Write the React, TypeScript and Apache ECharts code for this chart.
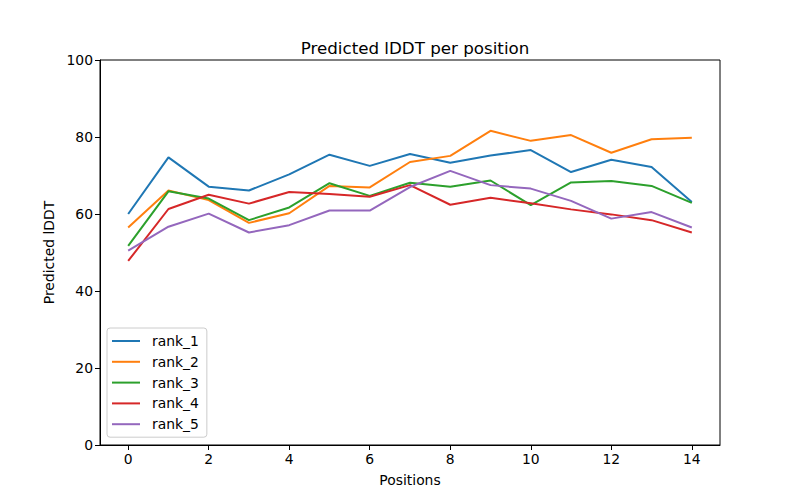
import React, { useEffect, useRef } from "react";
import * as echarts from "echarts";

const positions = [0, 1, 2, 3, 4, 5, 6, 7, 8, 9, 10, 11, 12, 13, 14];
const seriesNames = ["rank_1", "rank_2", "rank_3", "rank_4", "rank_5"];
const rank1 = [60.0, 74.7, 67.1, 66.1, 70.3, 75.4, 72.5, 75.6, 73.3, 75.2, 76.6, 70.9, 74.1, 72.2, 63.1];
const rank2 = [56.5, 66.1, 63.6, 57.7, 60.2, 67.3, 66.9, 73.5, 75.1, 81.6, 79.0, 80.5, 75.9, 79.4, 79.8];
const rank3 = [51.7, 65.9, 64.0, 58.4, 61.7, 68.0, 64.7, 68.1, 67.1, 68.7, 62.3, 68.2, 68.6, 67.3, 62.9];
const rank4 = [47.8, 61.3, 65.0, 62.7, 65.7, 65.2, 64.5, 67.5, 62.4, 64.2, 62.8, 61.2, 59.9, 58.4, 55.2];
const rank5 = [50.5, 56.7, 60.1, 55.2, 57.1, 60.9, 60.9, 67.0, 71.2, 67.5, 66.6, 63.4, 58.8, 60.5, 56.5];
const xTicks = [0, 2, 4, 6, 8, 10, 12, 14];
const colors = ["#1f77b4", "#ff7f0e", "#2ca02c", "#d62728", "#9467bd"];

export default function App() {
  const ref = useRef<HTMLDivElement>(null);
  useEffect(() => {
    if (!ref.current) return;
    const chart = echarts.init(ref.current, null, { renderer: "svg" });
    const all = [rank1, rank2, rank3, rank4, rank5];
    const font = "DejaVu Sans";
    chart.setOption({
      animation: false,
      textStyle: { fontFamily: font },
      title: {
        text: "Predicted lDDT per position",
        left: 410,
        textAlign: "center",
        top: 34,
        textStyle: { fontFamily: font, fontSize: 16.7, fontWeight: "normal", color: "#000" },
      },
      grid: { left: 100, right: 80, top: 60, bottom: 55, show: true, borderColor: "#000", borderWidth: 1, backgroundColor: "transparent" },
      legend: {
        orient: "vertical",
        left: 107,
        top: 328,
        data: seriesNames.map((n) => ({ name: n, icon: "rect" })),
        itemWidth: 28,
        itemHeight: 2,
        itemGap: 6.8,
        padding: [6, 8, 6, 5],
        backgroundColor: "rgba(255,255,255,0.8)",
        borderColor: "#cccccc",
        borderWidth: 1,
        borderRadius: 3,
        textStyle: { fontFamily: font, fontSize: 13.9, color: "#000", lineHeight: 14, padding: [0, 0, 0, 7] },
      },
      xAxis: {
        type: "value",
        min: -0.7,
        max: 14.7,
        name: "Positions",
        nameLocation: "middle",
        nameGap: 28,
        nameTextStyle: { fontFamily: font, fontSize: 13.9, color: "#000" },
        axisLine: { show: true, onZero: false, lineStyle: { color: "#000", width: 1 } },
        axisTick: { show: true, inside: false, length: 5, lineStyle: { color: "#000" }, customValues: xTicks },
        axisLabel: { color: "#000", fontSize: 13.9, fontFamily: font, margin: 7, customValues: xTicks },
        splitLine: { show: false },
      },
      yAxis: {
        type: "value",
        min: 0,
        max: 100,
        interval: 20,
        name: "Predicted lDDT",
        nameLocation: "middle",
        nameGap: 43,
        nameTextStyle: { fontFamily: font, fontSize: 13.9, color: "#000" },
        axisLine: { show: true, onZero: false, lineStyle: { color: "#000", width: 1 } },
        axisTick: { show: true, inside: false, length: 5, lineStyle: { color: "#000" } },
        axisLabel: { color: "#000", fontSize: 13.9, fontFamily: font, margin: 7 },
        splitLine: { show: false },
      },
      series: seriesNames.map((n, i) => ({
        name: n,
        type: "line",
        data: positions.map((p, j) => [p, all[i][j]]),
        showSymbol: false,
        symbol: "none",
        lineStyle: { color: colors[i], width: 2 },
        itemStyle: { color: colors[i] },
      })),
    });
    return () => chart.dispose();
  }, []);
  return <div ref={ref} style={{ position: "absolute", left: 0, top: 0, width: 800, height: 500 }} />;
}
